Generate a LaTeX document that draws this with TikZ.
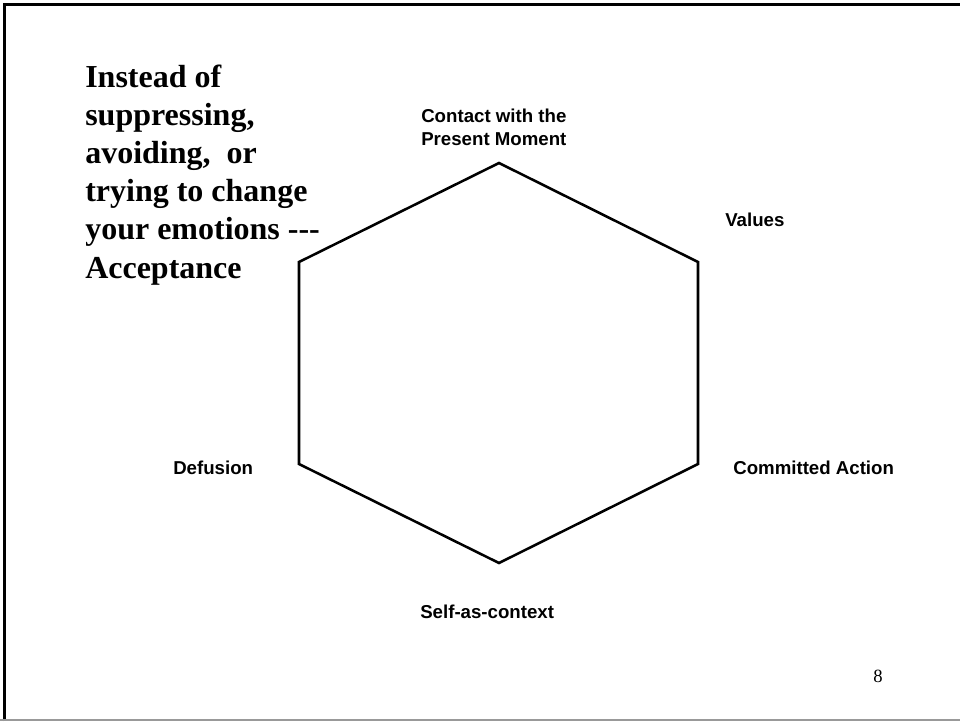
\documentclass[tikz,border=0pt]{standalone}
\usepackage{fontspec}
\setmainfont{Liberation Serif}
\newfontfamily\labelsans{Liberation Sans}
\begin{document}
\begin{tikzpicture}[x=0.75pt,y=-0.75pt,
  hexline/.style={line width=1.9pt,line join=miter},
  facet/.style={font=\labelsans\bfseries\fontsize{14}{16.8}\selectfont,
    inner sep=0pt,anchor=base west,align=left},
  headline/.style={font=\bfseries\fontsize{24}{28.65}\selectfont,
    inner sep=0pt,anchor=base west,align=left},
  pagenum/.style={font=\fontsize{14}{16}\selectfont,inner sep=0pt,anchor=base west}]
  % page area
  \useasboundingbox (0,0) rectangle (960,721);
  \fill[white] (0,0) rectangle (960,721);
  % slide frame
  \draw[line width=2.4pt] (4.5,721) -- (4.5,4.5) -- (960,4.5);
  \draw[line width=1.5pt,gray!80] (0,720) -- (960,720);

  % hexagon corners
  \coordinate (top) at (499,163);
  \coordinate (ur) at (698,262);
  \coordinate (lr) at (698,464);
  \coordinate (bot) at (499,563);
  \coordinate (ll) at (299,464);
  \coordinate (ul) at (299,262);
  \draw[hexline] (top) -- (ur) -- (lr) -- (bot) -- (ll) -- (ul) -- cycle;

  % facet labels (multi-line nodes sit on the baseline of their last line)
  \node[facet] (present) at (421,145) {Contact with the\\Present Moment};
  \node[facet] (values) at (725,226) {Values};
  \node[facet] (defusion) at (173,474) {Defusion};
  \node[facet] (action) at (733,474) {Committed Action};
  \node[facet] (self) at (420,618) {Self-as-context};

  % heading text
  \node[headline] (accept) at (85,278) {Instead of\\suppressing,\\avoiding,\ \ or\\trying to change\\your emotions -{}-{}-\\Acceptance};

  % page number
  \node[pagenum] (page) at (873,682) {8};
\end{tikzpicture}
\end{document}
